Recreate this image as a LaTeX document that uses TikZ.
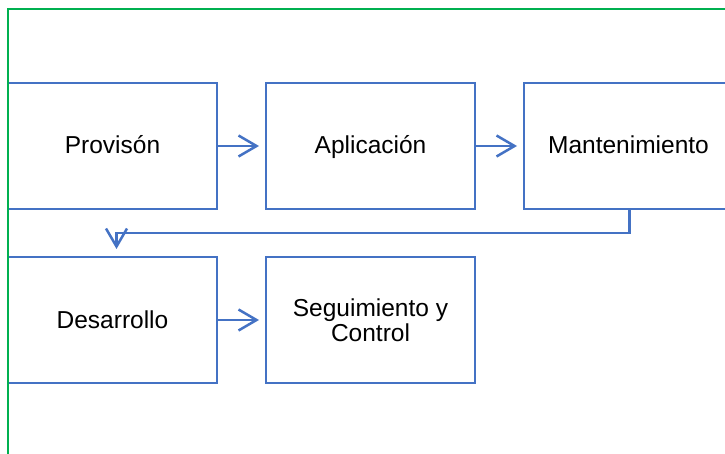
\documentclass[tikz,border=0pt]{standalone}
\usepackage{fontspec}
\setmainfont{Liberation Sans}
\usepackage{tikz}
\usetikzlibrary{arrows.meta}
\usetikzlibrary{positioning}
\definecolor{boxblue}{RGB}{68,114,196}
\definecolor{framegreen}{RGB}{0,176,80}
\tikzstyle{stageblock} = [rectangle, minimum width=209pt, minimum height=126pt, text centered,
align=center, draw=boxblue, line width=2.5pt, outer sep=0pt, fill=white,
font=\fontsize{24.5}{24.5}\selectfont]
\tikzstyle{oneline} = [text height=20pt, text depth=4pt]
\tikzstyle{arrow} = [draw=boxblue, line width=2.5pt, -{Straight Barb[length=18pt,width=21pt]}]

\begin{document}
\begin{tikzpicture}[x=1pt, y=-1pt, node distance=48pt and 49pt]
  \useasboundingbox (0,0) rectangle (725,454);
  \clip (0,0) rectangle (725,454);
  \node (prov) [stageblock, oneline] at (112.5,146) {Provisón};
  \node (apli) [stageblock, oneline, right=of prov] {Aplicación};
  \node (mant) [stageblock, oneline, right=of apli] {Mantenimiento};
  \node (desa) [stageblock, oneline, below=of prov] {Desarrollo};
  \node (segu) [stageblock, right=of desa] {Seguimiento y\\Control};
  \draw [arrow, shorten >=7pt] (prov) -- (apli);
  \draw [arrow, shorten >=7pt] (apli) -- (mant);
  \draw [arrow, shorten >=7pt] (desa) -- (segu);
  % elbow from the last box back to the second row
  \draw [arrow, shorten >=8pt] ([xshift=1pt]mant.south) -- ++(0,24) -| ([xshift=4pt]desa.north);
  % green frame on top
  \draw [framegreen, line width=2pt] (8,460) -- (8,9) -- (730,9);
\end{tikzpicture}
\end{document}
